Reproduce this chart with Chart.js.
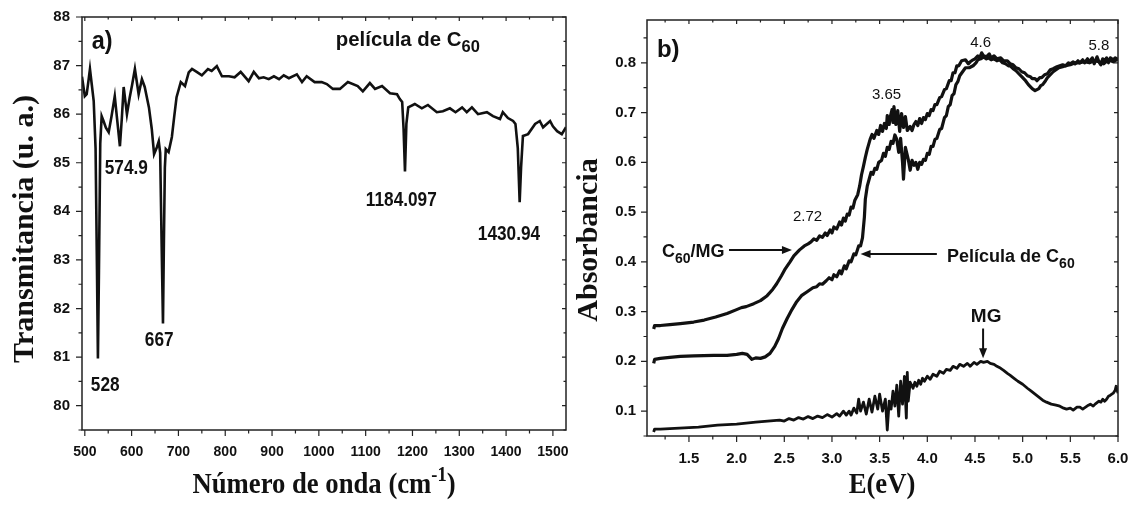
<!DOCTYPE html>
<html><head><meta charset="utf-8">
<script src="https://cdn.jsdelivr.net/npm/chart.js@4/dist/chart.umd.min.js"></script>
<style>
html,body{margin:0;padding:0;background:#fff;}
#wrap{position:relative;width:1131px;height:506px;overflow:hidden;}
#cA{position:absolute;left:0;top:0;}
#cB{position:absolute;left:575px;top:0;}
</style></head><body>
<div id="wrap"><canvas id="cA" width="575" height="506"></canvas><canvas id="cB" width="556" height="506"></canvas></div>
<script>
// ---------- Panel a) IR spectrum ----------
const wavenumber = [494,500,504,508,511,515,519,523,526,528,530,533,536,540,545,551,557,564,569,575,579,583,590,596,601,607,615,622,628,637,643,648,654,658,661,664,667,669,671,673,679,686,691,696,705,714,722,729,739,750,763,771,782,793,808,820,833,850,861,872,882,893,904,915,925,936,953,964,974,991,1006,1017,1030,1045,1062,1083,1094,1109,1120,1135,1152,1167,1173,1178,1181,1184,1187,1191,1205,1220,1233,1252,1265,1280,1292,1306,1316,1327,1340,1359,1372,1387,1393,1404,1415,1420,1425,1429,1432,1436,1447,1462,1472,1479,1494,1500,1509,1519,1528];
const transmittance = [86.77,86.37,86.41,86.7,86.93,86.6,86.27,85.3,82.8,80.97,82.6,85.4,85.96,85.86,85.72,85.63,85.95,86.37,85.9,85.34,85.9,86.56,86.0,86.35,86.6,86.93,86.41,86.72,86.56,86.14,85.7,85.18,85.32,85.44,85.2,83.4,81.69,83.4,84.9,85.28,85.22,85.53,85.95,86.35,86.66,86.58,86.86,86.93,86.87,86.8,86.93,86.89,86.99,86.78,86.78,86.76,86.87,86.68,86.87,86.74,86.76,86.72,86.78,86.72,86.8,86.74,86.82,86.66,86.78,86.66,86.66,86.62,86.52,86.52,86.66,86.58,86.47,86.64,86.52,86.58,86.43,86.41,86.31,86.25,85.7,84.82,85.8,86.14,86.21,86.12,86.19,86.04,86.06,86.12,86.04,86.14,86.04,86.14,86.0,86.04,85.96,85.9,86.04,85.92,85.86,85.8,85.3,84.19,84.9,85.55,85.59,85.8,85.86,85.73,85.86,85.75,85.65,85.59,85.73];
const xTicksA = [500,600,700,800,900,1000,1100,1200,1300,1400,1500];
const yTicksA = [80,81,82,83,84,85,86,87,88];
const peakLabels = ['574.9','528','667','1184.097','1430.94'];
const peakLabelX = [542.7,512.8,628.2,1100.4,1339.7];
const peakLabelY = [84.76,80.31,81.22,84.10,83.42];

// ---------- Panel b) UV-Vis absorbance ----------
const eUpper = [1.13,1.14,1.2,1.3,1.41,1.55,1.66,1.78,1.9,2.0,2.05,2.1,2.18,2.25,2.32,2.38,2.42,2.47,2.51,2.56,2.6,2.66,2.71,2.75,2.78,2.81,2.84,2.87,2.9,2.93,2.95,2.98,3.0,3.02,3.05,3.08,3.1,3.12,3.14,3.16,3.18,3.2,3.22,3.24,3.27,3.29,3.31,3.33,3.35,3.37,3.4,3.42,3.44,3.47,3.49,3.51,3.53,3.55,3.57,3.58,3.6,3.61,3.63,3.64,3.65,3.67,3.69,3.71,3.73,3.75,3.77,3.79,3.82,3.84,3.86,3.88,3.9,3.92,3.94,3.96,3.98,4.0,4.02,4.04,4.06,4.08,4.1,4.13,4.15,4.18,4.2,4.23,4.25,4.27,4.29,4.31,4.33,4.36,4.4,4.43,4.45,4.48,4.5,4.53,4.55,4.57,4.59,4.62,4.65,4.67,4.7,4.73,4.77,4.8,4.84,4.87,4.9,4.93,4.96,4.99,5.02,5.05,5.08,5.1,5.13,5.15,5.18,5.2,5.23,5.26,5.29,5.32,5.36,5.39,5.42,5.45,5.48,5.5,5.53,5.55,5.58,5.6,5.63,5.65,5.68,5.7,5.73,5.75,5.78,5.8,5.82,5.84,5.86,5.88,5.9,5.92,5.95,5.97,6.0];
const absC60MG = [0.265,0.272,0.272,0.274,0.276,0.279,0.283,0.289,0.296,0.304,0.308,0.31,0.316,0.322,0.332,0.345,0.356,0.372,0.386,0.4,0.412,0.424,0.432,0.436,0.44,0.446,0.443,0.452,0.449,0.458,0.453,0.464,0.458,0.47,0.466,0.48,0.474,0.488,0.482,0.496,0.494,0.51,0.508,0.524,0.535,0.552,0.575,0.592,0.61,0.626,0.646,0.656,0.648,0.664,0.656,0.674,0.662,0.678,0.668,0.694,0.676,0.69,0.706,0.68,0.712,0.676,0.704,0.662,0.698,0.67,0.692,0.664,0.672,0.664,0.676,0.682,0.674,0.688,0.678,0.69,0.686,0.698,0.694,0.706,0.704,0.716,0.716,0.73,0.732,0.746,0.748,0.764,0.764,0.78,0.78,0.794,0.794,0.804,0.806,0.798,0.802,0.806,0.808,0.814,0.81,0.82,0.814,0.812,0.818,0.81,0.814,0.808,0.81,0.804,0.804,0.798,0.796,0.79,0.788,0.782,0.78,0.774,0.772,0.768,0.768,0.764,0.77,0.77,0.776,0.778,0.786,0.788,0.792,0.794,0.796,0.794,0.8,0.798,0.802,0.798,0.804,0.8,0.806,0.8,0.808,0.802,0.81,0.798,0.812,0.802,0.796,0.808,0.804,0.81,0.8,0.81,0.806,0.81,0.806];
const eMiddle = [1.13,1.14,1.2,1.3,1.41,1.55,1.76,1.9,2.0,2.06,2.11,2.14,2.16,2.2,2.25,2.3,2.35,2.4,2.44,2.48,2.53,2.58,2.63,2.68,2.74,2.8,2.84,2.87,2.9,2.94,2.97,3.0,3.02,3.05,3.08,3.1,3.13,3.15,3.18,3.2,3.23,3.25,3.28,3.3,3.32,3.34,3.35,3.37,3.39,3.41,3.43,3.45,3.47,3.49,3.52,3.54,3.56,3.58,3.6,3.62,3.64,3.66,3.68,3.7,3.72,3.74,3.75,3.77,3.8,3.82,3.84,3.86,3.88,3.9,3.92,3.94,3.96,3.98,4.0,4.02,4.04,4.06,4.08,4.1,4.13,4.15,4.18,4.2,4.22,4.24,4.26,4.28,4.3,4.32,4.34,4.37,4.4,4.44,4.48,4.51,4.53,4.56,4.59,4.62,4.64,4.67,4.7,4.73,4.76,4.79,4.82,4.85,4.87,4.9,4.93,4.96,5.0,5.03,5.06,5.08,5.1,5.13,5.15,5.17,5.19,5.21,5.24,5.26,5.29,5.32,5.35,5.38,5.42,5.45,5.5,5.55,5.6,5.65,5.7,5.75,5.8,5.85,5.9,5.95,6.0];
const absC60Film = [0.196,0.204,0.206,0.208,0.21,0.211,0.212,0.212,0.214,0.216,0.214,0.208,0.204,0.207,0.206,0.209,0.216,0.23,0.246,0.266,0.286,0.304,0.32,0.332,0.34,0.348,0.35,0.356,0.355,0.362,0.368,0.364,0.374,0.37,0.382,0.376,0.392,0.386,0.402,0.4,0.416,0.414,0.432,0.432,0.448,0.49,0.526,0.552,0.566,0.58,0.576,0.588,0.586,0.6,0.604,0.618,0.612,0.63,0.626,0.642,0.638,0.655,0.646,0.62,0.648,0.6,0.566,0.63,0.606,0.584,0.604,0.594,0.6,0.586,0.6,0.596,0.606,0.604,0.618,0.616,0.632,0.632,0.646,0.648,0.666,0.668,0.69,0.694,0.712,0.716,0.734,0.738,0.756,0.762,0.774,0.782,0.79,0.79,0.794,0.8,0.806,0.808,0.812,0.808,0.81,0.806,0.808,0.804,0.806,0.8,0.798,0.794,0.794,0.788,0.784,0.778,0.77,0.764,0.756,0.752,0.748,0.744,0.746,0.748,0.754,0.756,0.764,0.77,0.776,0.782,0.786,0.79,0.792,0.794,0.796,0.8,0.8,0.802,0.8,0.804,0.802,0.798,0.806,0.802,0.808];
const eLower = [1.13,1.14,1.2,1.4,1.6,1.8,2.0,2.2,2.45,2.5,2.55,2.6,2.65,2.7,2.75,2.8,2.85,2.9,2.95,3.0,3.05,3.08,3.12,3.15,3.18,3.2,3.23,3.26,3.28,3.3,3.33,3.36,3.39,3.42,3.45,3.48,3.5,3.53,3.56,3.58,3.6,3.62,3.64,3.66,3.68,3.7,3.72,3.74,3.76,3.78,3.79,3.8,3.82,3.85,3.87,3.89,3.91,3.93,3.95,3.97,4.0,4.03,4.06,4.1,4.13,4.17,4.2,4.24,4.27,4.31,4.34,4.38,4.42,4.45,4.49,4.52,4.56,4.59,4.63,4.66,4.7,4.73,4.77,4.8,4.84,4.87,4.91,4.95,5.0,5.05,5.09,5.13,5.17,5.21,5.25,5.3,5.35,5.39,5.43,5.46,5.5,5.53,5.57,5.6,5.63,5.66,5.69,5.71,5.74,5.76,5.8,5.82,5.84,5.86,5.88,5.9,5.92,5.95,5.97,5.98,6.0];
const absMG = [0.058,0.064,0.064,0.066,0.068,0.072,0.074,0.078,0.082,0.08,0.085,0.082,0.087,0.084,0.089,0.085,0.09,0.087,0.093,0.088,0.095,0.09,0.1,0.092,0.1,0.092,0.106,0.096,0.124,0.1,0.118,0.094,0.124,0.098,0.13,0.104,0.134,0.1,0.124,0.062,0.12,0.104,0.14,0.11,0.152,0.09,0.16,0.114,0.17,0.086,0.178,0.12,0.158,0.146,0.158,0.15,0.162,0.154,0.166,0.16,0.17,0.164,0.174,0.17,0.18,0.176,0.184,0.182,0.19,0.186,0.194,0.19,0.196,0.19,0.198,0.194,0.2,0.198,0.2,0.196,0.194,0.19,0.186,0.182,0.176,0.172,0.166,0.16,0.154,0.146,0.14,0.134,0.128,0.122,0.118,0.114,0.112,0.11,0.106,0.104,0.106,0.102,0.108,0.108,0.104,0.108,0.112,0.114,0.11,0.114,0.12,0.118,0.124,0.12,0.124,0.13,0.132,0.136,0.142,0.15,0.136];
const xTicksB = [1.5,2.0,2.5,3.0,3.5,4.0,4.5,5.0,5.5,6.0];
const yTicksB = [0.1,0.2,0.3,0.4,0.5,0.6,0.7,0.8];
const bandLabels = ['2.72','3.65','4.6','5.8'];
const bandLabelX = [2.59,3.42,4.45,5.69];
const bandLabelY = [0.482,0.728,0.832,0.826];

// ---------- helpers ----------
const SANS = "'Liberation Sans',Arial,sans-serif";
const SERIF = "'Liberation Serif','Times New Roman',serif";
const INK = '#111';

function pts(xs, ys){ return xs.map((x,i)=>({x:x, y:ys[i]})); }

// draw a run of text pieces [{t, font, dy}], optional horizontal squeeze sx
function rich(ctx, parts, x, y, align, sx){
  sx = sx || 1;
  let w = 0;
  parts.forEach(p=>{ ctx.font = p.font; w += ctx.measureText(p.t).width; });
  ctx.save();
  ctx.translate(x, y); ctx.scale(sx, 1);
  let cx = align==='center' ? -w/2 : 0;
  ctx.textAlign = 'left'; ctx.textBaseline = 'alphabetic';
  parts.forEach(p=>{ ctx.font = p.font; ctx.fillText(p.t, cx, (p.dy||0)); cx += ctx.measureText(p.t).width; });
  ctx.restore();
}

function frameAndTicks(chart, xStep, yStep){
  const {ctx, chartArea:a, scales:{x, y}} = chart;
  ctx.save();
  ctx.strokeStyle = '#222'; ctx.lineWidth = 1.5;
  ctx.strokeRect(a.left, a.top, a.right - a.left, a.bottom - a.top);
  ctx.lineWidth = 1.2;
  ctx.beginPath();
  const half = xStep/2;
  for (let k = Math.ceil(x.min/half - 1e-6); k*half <= x.max + 1e-9; k++) {
    const v = k*half; const major = Math.abs(Math.round(v/xStep)*xStep - v) < 1e-6;
    const p = x.getPixelForValue(v);
    ctx.moveTo(p, a.bottom); ctx.lineTo(p, a.bottom + (major ? 6 : 3.5));
    ctx.moveTo(p, a.top); ctx.lineTo(p, a.top + (major ? 4 : 2.5));
  }
  const yh = yStep/2;
  for (let k = Math.ceil(y.min/yh - 1e-6); k*yh <= y.max + 1e-9; k++) {
    const v = k*yh; const major = Math.abs(Math.round(v/yStep)*yStep - v) < 1e-6;
    const p = y.getPixelForValue(v);
    ctx.moveTo(a.left, p); ctx.lineTo(a.left - (major ? 6 : 3.5), p);
    ctx.moveTo(a.right, p); ctx.lineTo(a.right - (major ? 4 : 2.5), p);
  }
  ctx.stroke();
  ctx.restore();
}

function arrow(ctx, x1, y1, x2, y2){
  const ang = Math.atan2(y2-y1, x2-x1), L = 10, W = 4;
  ctx.beginPath(); ctx.moveTo(x1,y1); ctx.lineTo(x2 - L*Math.cos(ang)*0.8, y2 - L*Math.sin(ang)*0.8); ctx.stroke();
  ctx.beginPath();
  ctx.moveTo(x2, y2);
  ctx.lineTo(x2 - L*Math.cos(ang) + W*Math.sin(ang), y2 - L*Math.sin(ang) - W*Math.cos(ang));
  ctx.lineTo(x2 - L*Math.cos(ang) - W*Math.sin(ang), y2 - L*Math.sin(ang) + W*Math.cos(ang));
  ctx.closePath(); ctx.fill();
}

// fix axis box sizes and cancel the label overhang padding so the plot area is exact
function fitY(w){ return s => { s.width = w; s.paddingTop = 0; s.paddingBottom = 0; }; }
function fitX(h){ return s => { s.height = h; s.paddingLeft = 0; s.paddingRight = 0; }; }

// ---------- chart a ----------
new Chart(document.getElementById('cA'), {
  type: 'line',
  data: { datasets: [{ data: pts(wavenumber, transmittance), borderColor: INK, borderWidth: 2.6, pointRadius: 0, tension: 0, fill: false }] },
  options: {
    responsive: false, animation: false, events: [],
    layout: { padding: { left: 0, top: 17, right: 9, bottom: 0 } },
    plugins: { legend: { display: false }, tooltip: { enabled: false } },
    scales: {
      x: { type: 'linear', min: 494, max: 1528, afterFit: fitX(76),
           afterBuildTicks: s => { s.ticks = xTicksA.map(v => ({value: v})); },
           grid: { display: false, drawTicks: false }, border: { display: false },
           ticks: { padding: 14, color: INK, font: { family: SANS, size: 14, weight: 'bold' }, maxRotation: 0, autoSkip: false, callback: v => String(v) } },
      y: { type: 'linear', min: 79.5, max: 88, afterFit: fitY(82),
           afterBuildTicks: s => { s.ticks = yTicksA.map(v => ({value: v})); },
           grid: { display: false, drawTicks: false }, border: { display: false },
           ticks: { padding: 12, color: INK, font: { family: SANS, size: 15, weight: 'bold' }, autoSkip: false, callback: v => String(v) } }
    }
  },
  plugins: [{
    id: 'decoA',
    afterDraw(chart) {
      frameAndTicks(chart, 100, 1);
      const {ctx, scales:{x, y}} = chart;
      ctx.save(); ctx.fillStyle = INK;
      peakLabels.forEach((t, i) => {
        rich(ctx, [{t: t, font: "bold 21px " + SANS}], x.getPixelForValue(peakLabelX[i]), y.getPixelForValue(peakLabelY[i]), 'left', 0.82);
      });
      rich(ctx, [{t: 'película de C', font: "bold 21px " + SANS}, {t: '60', font: "bold 17px " + SANS, dy: 6}], x.getPixelForValue(1036.3), y.getPixelForValue(87.40), 'left', 0.97);
      rich(ctx, [{t: 'a)', font: "bold 26px " + SANS}], x.getPixelForValue(515), y.getPixelForValue(87.34), 'left', 0.9);
      // axis titles
      rich(ctx, [{t: 'Número de onda (cm', font: "bold 29px " + SERIF}, {t: '-1', font: "bold 20px " + SERIF, dy: -12}, {t: ')', font: "bold 29px " + SERIF}], 324, 493, 'center', 0.92);
      ctx.save(); ctx.translate(33, 229); ctx.rotate(-Math.PI/2);
      rich(ctx, [{t: 'Transmitancia (u. a.)', font: "bold 30px " + SERIF}], 0, 0, 'center');
      ctx.restore();
      ctx.restore();
    }
  }]
});

// ---------- chart b ----------
const lineStyle = { borderColor: INK, pointRadius: 0, tension: 0, fill: false, borderJoinStyle: 'round' };
new Chart(document.getElementById('cB'), {
  type: 'line',
  data: { datasets: [
    Object.assign({ label: 'C60/MG', data: pts(eUpper, absC60MG), borderWidth: 3.2 }, lineStyle),
    Object.assign({ label: 'Película de C60', data: pts(eMiddle, absC60Film), borderWidth: 3.2 }, lineStyle),
    Object.assign({ label: 'MG', data: pts(eLower, absMG), borderWidth: 2.8 }, lineStyle)
  ] },
  options: {
    responsive: false, animation: false, events: [],
    layout: { padding: { left: 0, top: 20, right: 13, bottom: 0 } },
    plugins: { legend: { display: false }, tooltip: { enabled: false } },
    scales: {
      x: { type: 'linear', min: 1.06, max: 6.0, afterFit: fitX(70),
           afterBuildTicks: s => { s.ticks = xTicksB.map(v => ({value: v})); },
           grid: { display: false, drawTicks: false }, border: { display: false },
           ticks: { padding: 14, color: INK, font: { family: SANS, size: 15, weight: 'bold' }, maxRotation: 0, autoSkip: false, callback: v => Number(v).toFixed(1) } },
      y: { type: 'linear', min: 0.05, max: 0.886, afterFit: fitY(72),
           afterBuildTicks: s => { s.ticks = yTicksB.map(v => ({value: v})); },
           grid: { display: false, drawTicks: false }, border: { display: false },
           ticks: { padding: 11, color: INK, font: { family: SANS, size: 15, weight: 'bold' }, autoSkip: false, callback: v => Number(v).toFixed(1) } }
    }
  },
  plugins: [{
    id: 'decoB',
    afterDraw(chart) {
      frameAndTicks(chart, 0.5, 0.1);
      const {ctx, scales:{x, y}} = chart;
      const X = v => x.getPixelForValue(v), Y = v => y.getPixelForValue(v);
      ctx.save(); ctx.fillStyle = INK; ctx.strokeStyle = INK; ctx.lineWidth = 2;
      rich(ctx, [{t: 'b)', font: "bold 24px " + SANS}], X(1.164), Y(0.812), 'left');
      bandLabels.forEach((t, i) => rich(ctx, [{t: t, font: "15px " + SANS}], X(bandLabelX[i]), Y(bandLabelY[i]), 'left'));
      rich(ctx, [{t: 'C', font: "bold 18px " + SANS}, {t: '60', font: "bold 14px " + SANS, dy: 6}, {t: '/MG', font: "bold 18px " + SANS}], X(1.217), Y(0.41), 'left');
      arrow(ctx, X(1.92), Y(0.424), X(2.58), Y(0.424));
      rich(ctx, [{t: 'Película de C', font: "bold 18px " + SANS}, {t: '60', font: "bold 14px " + SANS, dy: 6}], X(4.207), Y(0.40), 'left');
      arrow(ctx, X(4.10), Y(0.416), X(3.30), Y(0.416));
      rich(ctx, [{t: 'MG', font: "bold 19px " + SANS}], X(4.617), Y(0.28), 'center');
      arrow(ctx, X(4.585), Y(0.266), X(4.585), Y(0.206));
      // axis titles
      rich(ctx, [{t: 'E(eV)', font: "bold 29px " + SERIF}], 307, 493, 'center', 0.92);
      ctx.save(); ctx.translate(22, 240); ctx.rotate(-Math.PI/2);
      rich(ctx, [{t: 'Absorbancia', font: "bold 30px " + SERIF}], 0, 0, 'center');
      ctx.restore();
      ctx.restore();
    }
  }]
});
</script>
</body></html>
